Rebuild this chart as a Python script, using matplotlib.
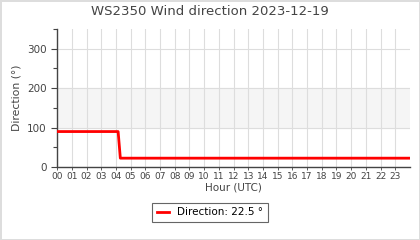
import matplotlib

matplotlib.use("Agg")
import matplotlib.pyplot as plt
from matplotlib.ticker import MultipleLocator

# wind direction readings (hour UTC, degrees)
hours = [0.0, 1.0, 2.0, 3.0, 4.0, 4.15, 4.3, 6.0, 10.0, 14.0, 18.0, 22.0, 24.0]
direction = [90, 90, 90, 90, 90, 90, 22.5, 22.5, 22.5, 22.5, 22.5, 22.5, 22.5]
hour_labels = [f"{h:02d}" for h in range(24)]
current = 22.5

fig = plt.figure(figsize=(4.2, 2.4), dpi=100)
fig.patch.set_edgecolor("#dddddd")
fig.patch.set_linewidth(2)
ax = fig.add_axes([0.136, 0.304, 0.84, 0.575])

txt = "#444444"
ax.axhspan(100, 200, color="#f5f5f5", zorder=0)
ax.plot(hours, direction, color="#ff0000", lw=2, label=f"Direction: {current} °", zorder=3)

ax.set_xlim(0, 24)
ax.set_ylim(0, 350)
ax.set_xticks(range(24))
ax.set_xticklabels(hour_labels, fontsize=6.5, color=txt)
ax.yaxis.set_major_locator(MultipleLocator(100))
ax.yaxis.set_minor_locator(MultipleLocator(50))
ax.tick_params(axis="y", labelsize=7.5, colors=txt, length=4, width=0.8)
ax.tick_params(axis="y", which="minor", length=3, width=0.8, color=txt)
ax.tick_params(axis="x", length=2, width=0.6, colors=txt, pad=1.5)
ax.grid(True, axis="both", which="major", color="#dddddd", lw=0.8, zorder=1)
ax.set_axisbelow(True)

for side in ("top", "right"):
    ax.spines[side].set_visible(False)
for side in ("left", "bottom"):
    ax.spines[side].set_color("#444444")
    ax.spines[side].set_linewidth(1)

ax.set_xlabel("Hour (UTC)", fontsize=7.5, color=txt, labelpad=1)
ax.set_ylabel("Direction (°)", fontsize=7.8, color=txt)
fig.suptitle("WS2350 Wind direction 2023-12-19", fontsize=9.5, color=txt, y=0.98)

leg = fig.legend(loc="center", bbox_to_anchor=(0.5, 0.115), fontsize=7.5,
                 fancybox=False, edgecolor="#666666", handlelength=1.2, framealpha=1)
leg.get_frame().set_linewidth(0.8)

fig.savefig("out.png", dpi=100)
